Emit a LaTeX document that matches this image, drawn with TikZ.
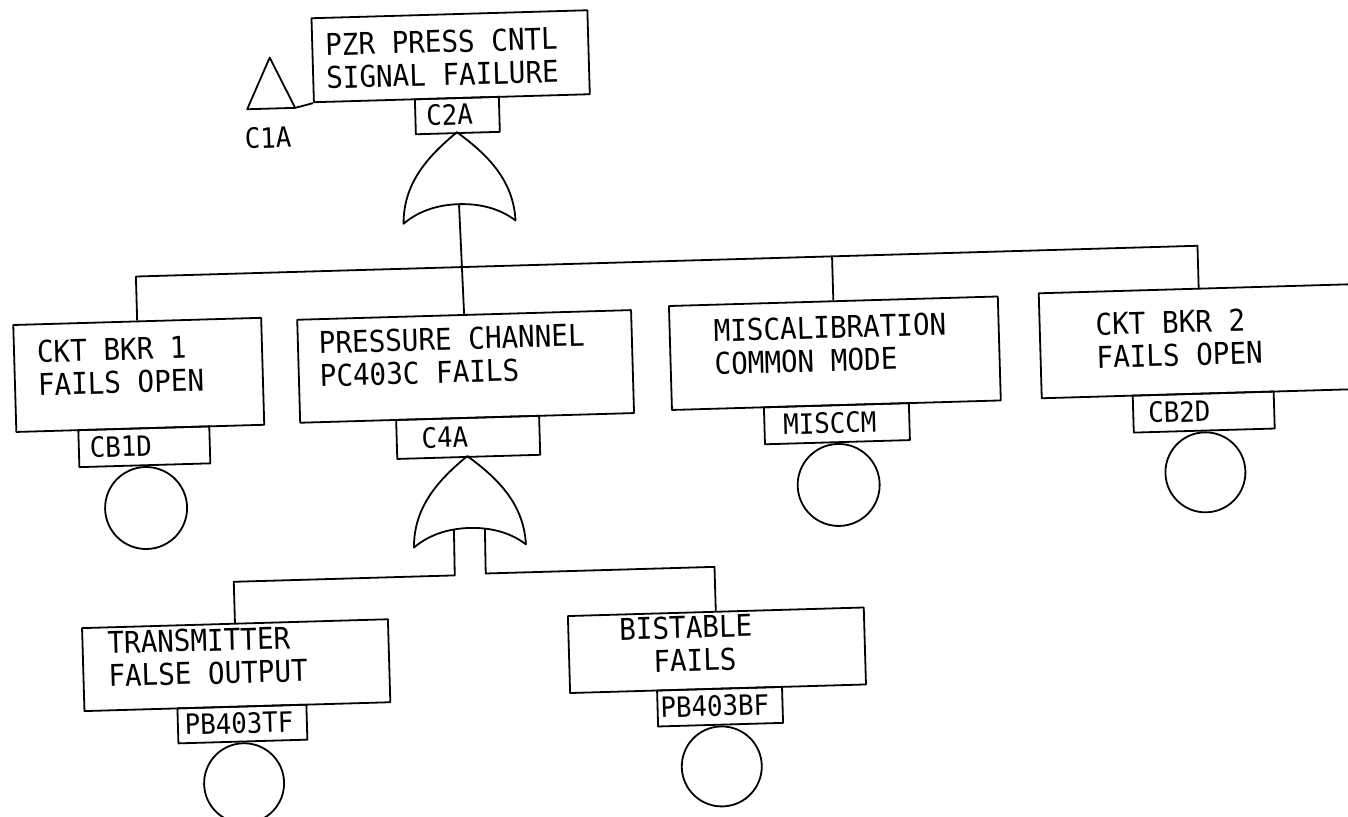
\documentclass[tikz,border=0pt]{standalone}
\usepackage{fontspec}
\newfontfamily\lblfont{DejaVu Sans Mono}[FakeStretch=0.92]
\begin{document}
\begin{tikzpicture}[x=1pt,y=-1pt,line width=1.8pt,line join=round,
  box/.style={draw,inner sep=0pt,anchor=north west},
  evt/.style={draw,circle,inner sep=0pt,anchor=north},
  txt/.style={inner sep=0pt,anchor=west,align=left,font=\lblfont\fontsize{30pt}{33pt}\selectfont},
  code/.style={inner sep=0pt,anchor=west,font=\lblfont\fontsize{28pt}{30pt}\selectfont},
  orgate/.pic={
    \draw (0,0) .. controls (-28,22) and (-55,48) .. (-56,90)
      .. controls (-40,77) and (-20,72) .. (0,72)
      .. controls (20,72) and (40,77) .. (56,90)
      .. controls (55,48) and (28,22) .. cycle;
    \coordinate (-out) at (0,72);
    \coordinate (-l) at (-15.5,73);
    \coordinate (-r) at (15.5,73);
  }]
\useasboundingbox (0,0) rectangle (1348,816);
\clip (0,0) rectangle (1348,816);
\fill[white] (0,0) rectangle (1348,816);
\begin{scope}[rotate around={1.66:(674,408)},transform shape]
% top event
\node[box,minimum width=276pt,minimum height=84pt] (top) at (322,7) {};
\node[txt] (topT) at (335,51.5) {PZR PRESS CNTL\\SIGNAL FAILURE};
\node[box,minimum width=84pt,minimum height=35pt] (c2a) at (423,91) {};
\node[code] (c2aT) at (434,108.5) {C2A};
% transfer triangle
\coordinate (triA) at (280,46);
\coordinate (triL) at (256,97);
\coordinate (triR) at (304,97);
\draw (triA) -- (triL) -- (triR) -- cycle;
\draw (triR) -- (top.south west);
\node[code] (c1aT) at (252,126) {C1A};
% gate 1
\pic (g1) at (465,126) {orgate};
\coordinate (busR) at (1202,261);
% first row
\node[box,minimum width=248pt,minimum height=107pt] (ckt1) at (15,305) {};
\node[txt] (ckt1T) at (38,350) {CKT BKR 1\\FAILS OPEN};
\node[box,minimum width=131pt,minimum height=37pt] (cb1d) at (77,412) {};
\node[code] (cb1dT) at (88,430.5) {CB1D};
\node[evt,minimum size=82pt] (ev1) at (cb1d.south) {};

\node[box,minimum width=334pt,minimum height=103pt] (pc) at (299,308) {};
\node[txt] (pcT) at (320,349) {PRESSURE CHANNEL\\PC403C FAILS};
\node[box,minimum width=143pt,minimum height=39pt] (c4a) at (395,411) {};
\node[code] (c4aT) at (420,430.5) {C4A};

\node[box,minimum width=329pt,minimum height=104pt] (misc) at (671,305) {};
\node[txt] (miscT) at (715,348.5) {MISCALIBRATION\\COMMON MODE};
\node[box,minimum width=145pt,minimum height=37pt] (misccm) at (763,409) {};
\node[code] (misccmT) at (782,427.5) {MISCCM};
\node[evt,minimum size=82pt] (ev3) at (misccm.south) {};

\node[box,minimum width=379pt,minimum height=105pt] (ckt2) at (1041,303) {};
\node[txt] (ckt2T) at (1097,353) {CKT BKR 2\\FAILS OPEN};
\node[box,minimum width=141pt,minimum height=37pt] (cb2d) at (1132,408) {};
\node[code] (cb2dT) at (1147,426.5) {CB2D};
\node[evt,minimum size=80pt] (ev4) at (cb2d.south) {};

% bus
\draw (ckt1.north) |- (busR) -- (busR |- ckt2.north);
\draw (misc.north) -- (misc.north |- busR);
\draw (g1-out) -- (pc.north);

% gate 2
\pic (g2) at (466,450) {orgate};
\coordinate (jl) at (450,569);
\coordinate (jr) at (481,568);

\node[box,minimum width=306pt,minimum height=83pt] (trans) at (75,610) {};
\node[txt] (transT) at (100,643) {TRANSMITTER\\FALSE OUTPUT};
\node[box,minimum width=129pt,minimum height=35pt] (pbtf) at (168,693) {};
\node[code] (pbtfT) at (175,710.5) {PB403TF};
\node[evt,minimum size=80pt] (ev5) at (pbtf.south) {};

\node[box,minimum width=296pt,minimum height=77pt] (bist) at (561,612) {};
\node[txt] (bistT) at (612,644) {BISTABLE\\\phantom{BI}FAILS};
\node[box,minimum width=125pt,minimum height=36pt] (pbbf) at (648,689) {};
\node[code] (pbbfT) at (651,707) {PB403BF};
\node[evt,minimum size=80pt] (ev6) at (pbbf.south) {};

\draw (g2-l) -- (jl) -| (trans.north);
\draw (g2-r) -- (jr) -| (bist.north);
\end{scope}
\end{tikzpicture}
\end{document}
